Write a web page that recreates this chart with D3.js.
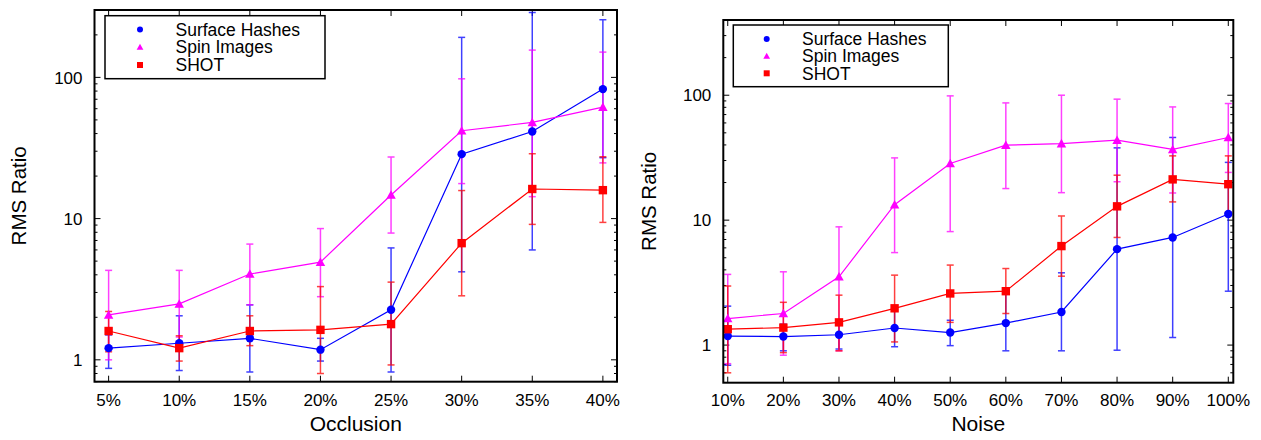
<!DOCTYPE html>
<html><head><meta charset="utf-8">
<script src="https://cdn.jsdelivr.net/npm/d3@7/dist/d3.min.js"></script>
<style>body{margin:0;background:#fff}svg{display:block}text{font-family:"Liberation Sans",Arial,sans-serif;fill:#000}</style>
</head><body>
<svg id="c" width="1261" height="440"></svg>
<script>
const seriesNames = ["Surface Hashes", "Spin Images", "SHOT"];
const seriesColors = ["#0000ff", "#ff00ff", "#ff0000"];
const seriesShapes = ["circle", "triangle", "square"];

const occlusion = [5, 10, 15, 20, 25, 30, 35, 40];
const occLabels = ["5%", "10%", "15%", "20%", "25%", "30%", "35%", "40%"];
const occSH     = [1.21, 1.31, 1.42, 1.18, 2.26, 28.6, 41.4, 82.6];
const occSHlo   = [0.87, 0.84, 0.82, 0.98, 0.82, 4.2, 6.0, 27];
const occSHhi   = [1.5, 2.05, 2.45, 1.42, 6.2, 192, 288, 256];
const occSI     = [2.08, 2.49, 4.05, 4.92, 14.7, 41.9, 48, 61.6];
const occSIlo   = [1.0, 1.45, 2.45, 2.8, 7.9, 17.7, 14.3, 24.8];
const occSIhi   = [4.3, 4.3, 6.6, 8.5, 27.3, 97.7, 156, 151];
const occSHOT   = [1.6, 1.21, 1.6, 1.63, 1.79, 6.7, 16.2, 15.9];
const occSHOTlo = [1.14, 0.98, 1.26, 0.8, 0.92, 2.84, 9.1, 9.4];
const occSHOThi = [2.2, 1.48, 2.05, 3.3, 3.55, 15.8, 28.8, 27.4];

const noise = [10, 20, 30, 40, 50, 60, 70, 80, 90, 100];
const noiseLabels = ["10%", "20%", "30%", "40%", "50%", "60%", "70%", "80%", "90%", "100%"];
const noiSH     = [1.18, 1.17, 1.21, 1.37, 1.26, 1.5, 1.84, 5.86, 7.27, 11.2];
const noiSHlo   = [0.69, 0.9, 0.93, 0.97, 0.99, 0.9, 0.9, 0.91, 1.15, 2.7];
const noiSHhi   = [2.05, 1.47, 1.5, 1.9, 1.58, 2.67, 3.79, 37.9, 45.9, 29];
const noiSI     = [1.63, 1.79, 3.52, 13.3, 28.4, 39.8, 41, 43.7, 36.8, 45.9];
const noiSIlo   = [0.71, 0.83, 0.9, 5.5, 8.1, 17.9, 16.6, 20.3, 16.5, 24.1];
const noiSIhi   = [3.68, 3.86, 8.84, 31.5, 98.8, 86.8, 100, 93, 80.6, 85.8];
const noiSHOT   = [1.34, 1.38, 1.52, 1.97, 2.59, 2.7, 6.2, 12.9, 21.2, 19.4];
const noiSHOTlo = [0.6, 0.87, 0.9, 1.06, 1.52, 1.79, 3.56, 7.27, 14.0, 11.6];
const noiSHOThi = [2.97, 2.2, 2.51, 3.63, 4.37, 4.1, 10.8, 22.9, 32.7, 32.7];

const yTickValues = [1, 10, 100];
const yTickLabels = ["1", "10", "100"];

const svg = d3.select("#c");

function drawPanel(cfg) {
  const {x0, x1, y0, y1, xdom, ydom, xs, xlabels, series, xtitle, ytitleX, legend} = cfg;
  const x = d3.scaleLinear().domain(xdom).range([x0, x1]);
  const y = d3.scaleLog().domain(ydom).range([y1, y0]);
  const g = svg.append("g");
  const clipId = "clip" + Math.round(x0);
  svg.append("clipPath").attr("id", clipId).append("rect")
    .attr("x", x0).attr("y", y0).attr("width", x1 - x0).attr("height", y1 - y0);

  const minors = [];
  for (let e = -1; e <= 3; e++) for (let m = 2; m <= 9; m++) {
    const v = m * Math.pow(10, e);
    if (v > ydom[0] && v < ydom[1]) minors.push(v);
  }
  const tk = g.append("g").attr("stroke", "#000").attr("stroke-width", 1);
  minors.forEach(v => {
    tk.append("line").attr("x1", x0).attr("x2", x0 + 3).attr("y1", y(v)).attr("y2", y(v));
    tk.append("line").attr("x1", x1).attr("x2", x1 - 3).attr("y1", y(v)).attr("y2", y(v));
  });
  yTickValues.forEach(v => {
    tk.append("line").attr("x1", x0).attr("x2", x0 + 6).attr("y1", y(v)).attr("y2", y(v));
    tk.append("line").attr("x1", x1).attr("x2", x1 - 6).attr("y1", y(v)).attr("y2", y(v));
  });
  xs.forEach(v => {
    tk.append("line").attr("x1", x(v)).attr("x2", x(v)).attr("y1", y1).attr("y2", y1 - 6);
    tk.append("line").attr("x1", x(v)).attr("x2", x(v)).attr("y1", y0).attr("y2", y0 + 6);
  });

  yTickValues.forEach((v, i) => {
    g.append("text").attr("x", x0 - 12).attr("y", y(v)).attr("dy", "0.36em")
      .attr("text-anchor", "end").style("font-size", "17px").text(yTickLabels[i]);
  });
  xs.forEach((v, i) => {
    g.append("text").attr("x", x(v)).attr("y", 406)
      .attr("text-anchor", "middle").style("font-size", "17px").text(xlabels[i]);
  });
  g.append("text").attr("x", (x0 + x1) / 2).attr("y", 431).attr("text-anchor", "middle")
    .style("font-size", "21px").text(xtitle);
  g.append("text").attr("transform", `translate(${ytitleX},${(y0 + y1) / 2}) rotate(-90)`)
    .attr("text-anchor", "middle").style("font-size", "20.5px").text("RMS Ratio");

  const plot = g.append("g").attr("clip-path", `url(#${clipId})`);
  series.forEach((s, si) => {
    const col = seriesColors[si];
    const eb = plot.append("g").attr("stroke", col).attr("stroke-width", 1.5).attr("opacity", 0.75);
    xs.forEach((xv, i) => {
      const px = x(xv);
      eb.append("line").attr("x1", px).attr("x2", px).attr("y1", y(s.lo[i])).attr("y2", y(s.hi[i]));
      [s.lo[i], s.hi[i]].forEach(v => eb.append("line")
        .attr("x1", px - 3.5).attr("x2", px + 3.5).attr("y1", y(v)).attr("y2", y(v)));
    });
  });
  series.forEach((s, si) => {
    const col = seriesColors[si];
    const line = d3.line().x((d, i) => x(xs[i])).y(d => y(d));
    plot.append("path").attr("d", line(s.v)).attr("fill", "none").attr("stroke", col).attr("stroke-width", 1.2);
    s.v.forEach((v, i) => drawMarker(plot, seriesShapes[si], x(xs[i]), y(v), col, 1.05));
  });

  g.append("rect").attr("x", x0).attr("y", y0).attr("width", x1 - x0).attr("height", y1 - y0)
    .attr("fill", "none").attr("stroke", "#000").attr("stroke-width", 2);

  const L = legend;
  g.append("rect").attr("x", L.x0).attr("y", L.y0).attr("width", L.x1 - L.x0).attr("height", L.y1 - L.y0)
    .attr("fill", "#fff").attr("stroke", "#000").attr("stroke-width", 1.5);
  seriesNames.forEach((n, i) => {
    const yy = L.rows[i];
    drawMarker(g, seriesShapes[i], L.mx, yy, seriesColors[i], 0.75);
    g.append("text").attr("x", L.tx).attr("y", yy).attr("dy", "0.36em").style("font-size", "17.5px").text(n);
  });
}

function drawMarker(sel, shape, cx, cy, col, k) {
  if (shape === "circle") {
    sel.append("circle").attr("cx", cx).attr("cy", cy).attr("r", 4 * k).attr("fill", col);
  } else if (shape === "square") {
    const h = 4 * k;
    sel.append("rect").attr("x", cx - h).attr("y", cy - h).attr("width", 2 * h).attr("height", 2 * h).attr("fill", col);
  } else {
    const h = 4.5 * k;
    sel.append("path").attr("d", `M${cx},${cy - h}L${cx + h},${cy + h * 0.8}L${cx - h},${cy + h * 0.8}Z`).attr("fill", col);
  }
}

drawPanel({
  x0: 94.5, x1: 617, y0: 10, y1: 381.7, xdom: [4, 41], ydom: [0.7, 300],
  xs: occlusion, xlabels: occLabels, xtitle: "Occlusion", ytitleX: 26,
  series: [{v: occSH, lo: occSHlo, hi: occSHhi}, {v: occSI, lo: occSIlo, hi: occSIhi}, {v: occSHOT, lo: occSHOTlo, hi: occSHOThi}],
  legend: {x0: 105, x1: 325, y0: 15.7, y1: 78.7, mx: 140, tx: 175.5, rows: [29.5, 47, 65]}
});
drawPanel({
  x0: 723.3, x1: 1233.3, y0: 20, y1: 382.7, xdom: [9.2, 100.9], ydom: [0.5, 400],
  xs: noise, xlabels: noiseLabels, xtitle: "Noise", ytitleX: 656,
  series: [{v: noiSH, lo: noiSHlo, hi: noiSHhi}, {v: noiSI, lo: noiSIlo, hi: noiSIhi}, {v: noiSHOT, lo: noiSHOTlo, hi: noiSHOThi}],
  legend: {x0: 733.3, x1: 948.3, y0: 25, y1: 86.7, mx: 766.7, tx: 802, rows: [39, 56, 73.3]}
});
</script>
</body></html>
